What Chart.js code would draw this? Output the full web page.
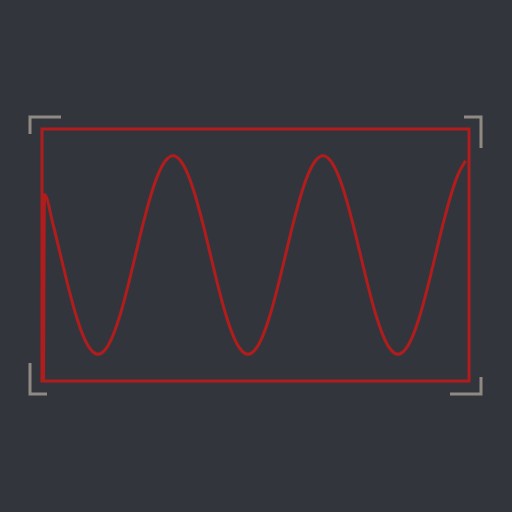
<!DOCTYPE html>
<html>
<head>
<meta charset="utf-8">
<script src="https://cdn.jsdelivr.net/npm/chart.js@4"></script>
<style>
html,body{margin:0;padding:0;background:#33353d;}
#wrap{width:512px;height:512px;}
</style>
</head>
<body>
<div id="wrap"><canvas id="c" width="512" height="512"></canvas></div>
<script>
const xValues = [1.5, 2.5, 11, 18.5, 26, 33.5, 41, 48.5, 56, 63.5, 71, 78.5, 86, 93.5, 101, 108.5, 116, 123.5, 131, 138.5, 146, 153.5, 161, 168.5, 176, 183.5, 191, 198.5, 206, 213.5, 221, 228.5, 236, 243.5, 251, 258.5, 266, 273.5, 281, 288.5, 296, 303.5, 311, 318.5, 326, 333.5, 341, 348.5, 356, 363.5, 371, 378.5, 386, 393.5, 401, 408.5, 416, 423.5];
const yValues = [-1.27, 0.61,
  0.31, 0, -0.31, -0.59, -0.81, -0.95, -1,
  -0.95, -0.81, -0.59, -0.31, 0, 0.31, 0.59, 0.81, 0.95, 1,
  0.95, 0.81, 0.59, 0.31, 0, -0.31, -0.59, -0.81, -0.95, -1,
  -0.95, -0.81, -0.59, -0.31, 0, 0.31, 0.59, 0.81, 0.95, 1,
  0.95, 0.81, 0.59, 0.31, 0, -0.31, -0.59, -0.81, -0.95, -1,
  -0.95, -0.81, -0.59, -0.31, 0, 0.31, 0.59, 0.81, 0.95];
const xRange = [0, 427];
const yRange = [-1.27, 1.27];

const RED = '#b11d1d';
const BRACKET = '#8f8a82';

const framePlugin = {
  id: 'frame',
  beforeDatasetsDraw(chart) {
    const {ctx, chartArea: a} = chart;
    ctx.save();
    ctx.strokeStyle = RED;
    ctx.lineWidth = 3;
    ctx.strokeRect(a.left, a.top, a.right - a.left, a.bottom - a.top);
    // corner brackets
    ctx.strokeStyle = BRACKET;
    ctx.lineWidth = 3;
    ctx.lineCap = 'butt';
    const o = 12, L = 31, S = 17;
    const l = a.left - o, r = a.right + o, t = a.top - o, b = a.bottom + o + 1;
    ctx.beginPath();
    ctx.moveTo(l, t + S); ctx.lineTo(l, t); ctx.lineTo(l + L, t);
    ctx.moveTo(r - S, t); ctx.lineTo(r, t); ctx.lineTo(r, t + L);
    ctx.moveTo(r, b - S); ctx.lineTo(r, b); ctx.lineTo(r - L, b);
    ctx.moveTo(l + S, b); ctx.lineTo(l, b); ctx.lineTo(l, b - L);
    ctx.stroke();
    ctx.restore();
  }
};

new Chart(document.getElementById('c'), {
  type: 'line',
  data: {
    datasets: [{
      data: xValues.map((x, i) => ({x, y: yValues[i]})),
      borderColor: RED,
      borderWidth: 3,
      pointRadius: 0,
      cubicInterpolationMode: 'monotone',
      fill: false
    }]
  },
  options: {
    responsive: false,
    animation: false,
    layout: {padding: {left: 42, right: 43, top: 129, bottom: 131}},
    plugins: {legend: {display: false}, tooltip: {enabled: false}},
    scales: {
      x: {type: 'linear', min: xRange[0], max: xRange[1], display: false},
      y: {type: 'linear', min: yRange[0], max: yRange[1], display: false}
    }
  },
  plugins: [framePlugin]
});
</script>
</body>
</html>
